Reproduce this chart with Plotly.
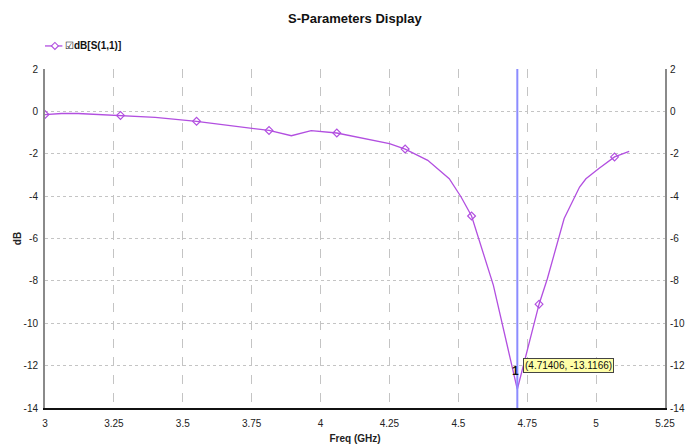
import plotly.graph_objects as go

# S11 sweep, frequency in GHz, magnitude in dB
freq_ghz = [3.000, 3.060, 3.120, 3.274, 3.400, 3.550, 3.700, 3.813, 3.894, 3.966,
            4.059, 4.150, 4.250, 4.307, 4.389, 4.467, 4.510, 4.548, 4.627, 4.71406,
            4.793, 4.823, 4.866, 4.884, 4.940, 4.963, 5.010, 5.067, 5.120]
s11_db = [-0.15, -0.10, -0.10, -0.19, -0.28, -0.47, -0.72, -0.90, -1.15, -0.91,
          -1.02, -1.25, -1.52, -1.78, -2.31, -3.18, -4.04, -4.94, -8.20, -13.1166,
          -9.10, -7.90, -5.90, -5.06, -3.57, -3.18, -2.70, -2.15, -1.89]

# indices of the sweep points that carry a diamond symbol
symbol_idx = [0, 3, 5, 7, 10, 13, 17, 20, 27]

# marker 1 readout
marker_freq = 4.71406
marker_db = -13.1166

x_ticks = [3, 3.25, 3.5, 3.75, 4, 4.25, 4.5, 4.75, 5, 5.25]
x_ticktext = ["3", "3.25", "3.5", "3.75", "4", "4.25", "4.5", "4.75", "5", "5.25"]
y_ticks = [2, 0, -2, -4, -6, -8, -10, -12, -14]
y_ticktext = ["2", "0", "-2", "-4", "-6", "-8", "-10", "-12", "-14"]

FONT = "Liberation Sans Narrow, Arial Narrow, Liberation Sans, Arial, sans-serif"
TRACE = "#b24fe0"

fig = go.Figure()

fig.add_trace(go.Scatter(
    x=freq_ghz, y=s11_db, mode="lines",
    line=dict(color=TRACE, width=1.3),
    showlegend=False, hoverinfo="skip",
))
fig.add_trace(go.Scatter(
    x=[freq_ghz[i] for i in symbol_idx], y=[s11_db[i] for i in symbol_idx],
    mode="markers",
    marker=dict(symbol="diamond-open", size=6, color=TRACE, line=dict(width=1.2)),
    showlegend=False,
))
# mirrored right-hand axis
fig.add_trace(go.Scatter(x=[None], y=[None], yaxis="y2", showlegend=False))

# marker line
fig.add_shape(type="line", xref="x", yref="paper", x0=marker_freq, x1=marker_freq,
              y0=0, y1=1, line=dict(color="#8c8cff", width=2), layer="above")

fig.add_annotation(x=marker_freq, y=marker_db, xref="x", yref="y",
                   text="<b>1</b>", showarrow=False, xanchor="right", yanchor="middle",
                   xshift=4, yshift=18, font=dict(family=FONT, size=12, color="#111"))
fig.add_annotation(x=marker_freq, y=marker_db, xref="x", yref="y",
                   text=f"({marker_freq:.5f}, {marker_db:.4f})", showarrow=False,
                   xanchor="left", yanchor="middle", xshift=6, yshift=24,
                   bgcolor="#ffffa8", bordercolor="#444", borderwidth=1, borderpad=1,
                   font=dict(family=FONT, size=10, color="#111"))

# legend key: short line with a diamond, then the checkbox and trace name
LEG_Y = 1.068
fig.add_shape(type="line", xref="paper", yref="paper", x0=0.0, x1=0.028,
              y0=LEG_Y, y1=LEG_Y, line=dict(color=TRACE, width=1.3))
fig.add_shape(type="path", xref="paper", yref="paper",
              xsizemode="pixel", ysizemode="pixel", xanchor=0.016, yanchor=LEG_Y,
              path="M -3.5 0 L 0 3.5 L 3.5 0 L 0 -3.5 Z",
              line=dict(color=TRACE, width=1.1), fillcolor="white")
fig.add_annotation(x=0.029, y=LEG_Y, xref="paper", yref="paper",
                   text="☑<b>dB[S(1,1)]</b>", showarrow=False,
                   xanchor="left", yanchor="middle",
                   font=dict(family=FONT, size=10, color="#111"))

axis_font = dict(family=FONT, size=10, color="#222")

fig.update_layout(
    width=685, height=445,
    margin=dict(l=45, r=20, t=69, b=37),
    paper_bgcolor="white", plot_bgcolor="white",
    showlegend=False,
    title=dict(text="<b>S-Parameters Display</b>", x=0.518, xanchor="center",
               y=0.958, yanchor="middle", font=dict(family=FONT, size=13, color="#111")),
    font=dict(family=FONT, size=10, color="#222"),
    xaxis=dict(range=[3, 5.25], tickvals=x_ticks, ticktext=x_ticktext,
               showgrid=True, gridcolor="#c4c4c4", griddash="dash", gridwidth=1,
               showline=True, linecolor="#111", linewidth=2, mirror=False,
               ticks="", ticklabelstandoff=5, tickfont=axis_font, zeroline=False,
               automargin=False,
               title=dict(text="<b>Freq (GHz)</b>", standoff=7,
                          font=dict(family=FONT, size=10, color="#222"))),
    yaxis=dict(range=[-14, 2], tickvals=y_ticks, ticktext=y_ticktext,
               showgrid=True, gridcolor="#c4c4c4", griddash="dot", gridwidth=1,
               showline=True, linecolor="#8a8a8a", linewidth=2, mirror=True,
               ticks="", ticklabelstandoff=3, tickfont=axis_font, zeroline=False,
               automargin=False,
               title=dict(text="<b>dB</b>", standoff=0,
                          font=dict(family=FONT, size=10, color="#222"))),
    yaxis2=dict(range=[-14, 2], tickvals=y_ticks, ticktext=y_ticktext,
                overlaying="y", side="right", showgrid=False, zeroline=False,
                ticks="", ticklabelstandoff=4, tickfont=axis_font, showline=False,
                automargin=False),
)

fig.write_html("out.html")
